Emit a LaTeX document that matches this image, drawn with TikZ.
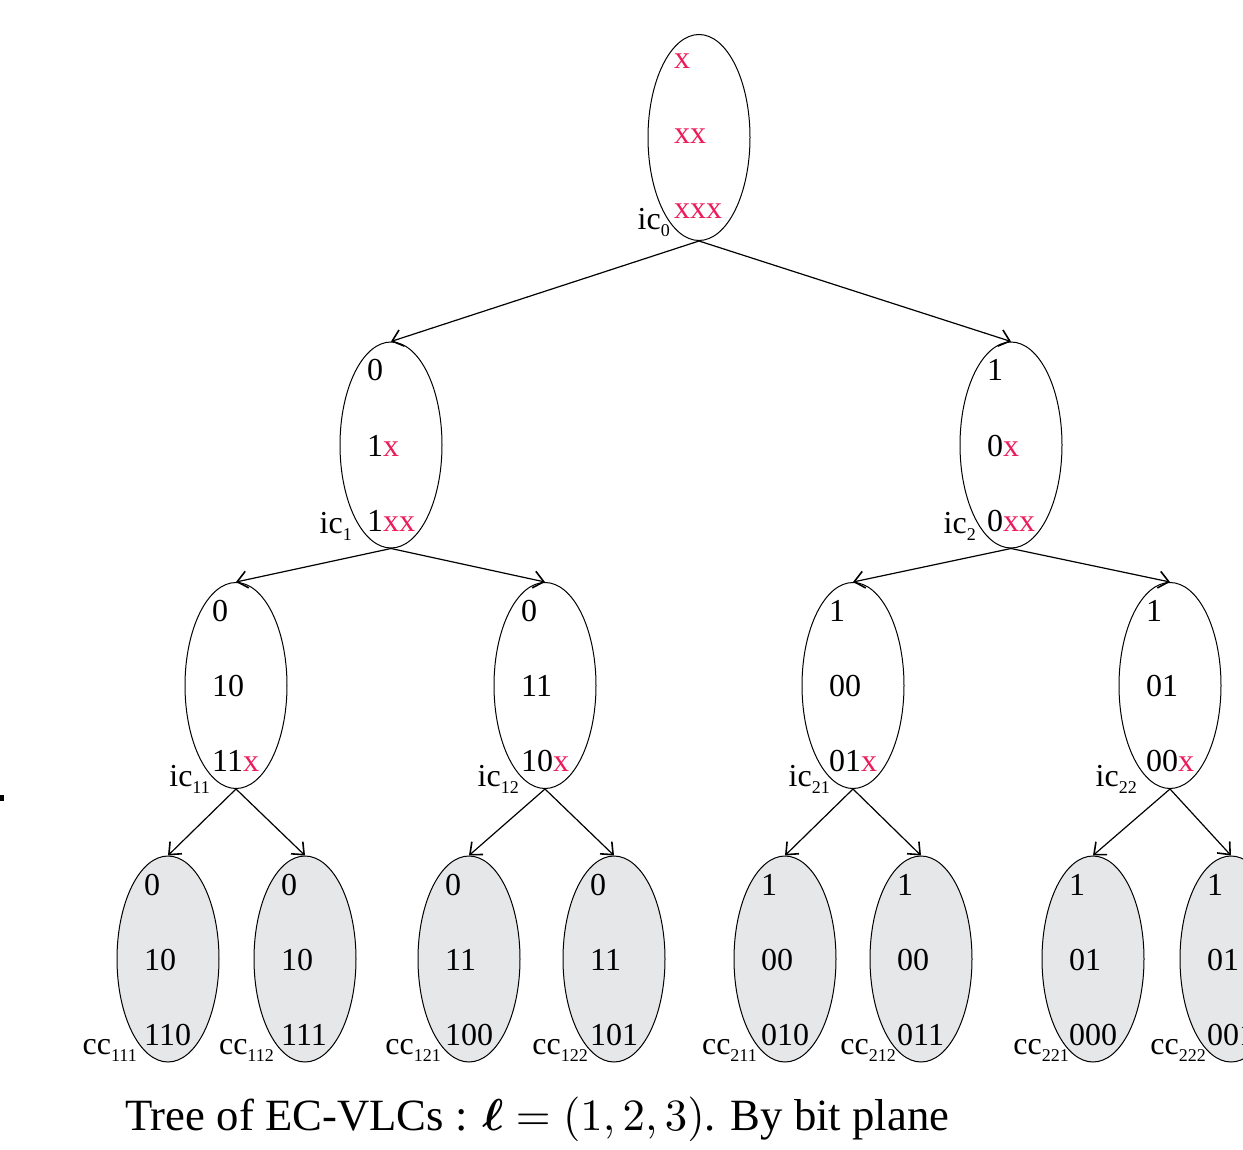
\documentclass[tikz,border=0pt]{standalone}
\usepackage{fontspec}
\setmainfont{Liberation Serif}
\usepackage{amsmath,bm,graphicx}
\usetikzlibrary{shapes.geometric,arrows.meta}
\definecolor{xred}{RGB}{236,28,90}
\definecolor{leafgray}{RGB}{230,231,232}
\tikzset{
  codeset/.style={ellipse, draw, line width=1pt, minimum width=102pt, minimum height=206pt, inner sep=0pt},
  leaf/.style={codeset, fill=leafgray},
  word/.style={anchor=base west, inner sep=0pt, font=\fontsize{32}{32}\selectfont},
  tag/.style={anchor=base east, inner sep=0pt, font=\fontsize{32}{32}\selectfont},
  branch/.style={-{Straight Barb[length=10pt,width=17pt,line width=1.6pt]}, line width=1.2pt},
}
\newcommand\rx[1]{\textcolor{xred}{#1}}
\newcommand\tagtext[2]{#1\raisebox{-7pt}{\fontsize{18}{18}\selectfont #2}}
% three code words inside ellipse #1, written from its centre
\newcommand\words[4]{%
  \path (#1) ++(-24,-64) node[word] (#1-a) {#2};
  \path (#1) ++(-24,11)  node[word] (#1-b) {#3};
  \path (#1) ++(-24,86)  node[word] (#1-c) {#4};}
\begin{document}
\begin{tikzpicture}[x=1pt,y=-1pt]
\useasboundingbox (0,0) rectangle (1243,1150);
\fill (0,795) rectangle (4,801);

% root
\node[codeset] (n0) at (699,137.5) {};
\path (n0) ++(-25,-69) node[word] (n0-a) {\rx{x}};
\path (n0) ++(-25,6)   node[word] (n0-b) {\rx{xx}};
\path (n0) ++(-25,81)  node[word] (n0-c) {\rx{xxx}};
\node[tag] (t0) at (670,230) {\tagtext{ic}{0}};

% first level
\node[codeset] (n1) at (391,445) {};
\words{n1}{0}{1\rx{x}}{1\rx{xx}}
\node[tag] (t1) at (352,533) {\tagtext{ic}{1}};
\node[codeset] (n2) at (1011,445) {};
\words{n2}{1}{0\rx{x}}{0\rx{xx}}
\node[tag] (t2) at (976,533) {\tagtext{ic}{2}};

% second level
\node[codeset] (n11) at (236,685.5) {};
\words{n11}{0}{10}{11\rx{x}}
\node[tag] (t11) at (210,786) {\tagtext{ic}{11}};
\node[codeset] (n12) at (545,685.5) {};
\words{n12}{0}{11}{10\rx{x}}
\node[tag] (t12) at (519,786) {\tagtext{ic}{12}};
\node[codeset] (n21) at (853,685.5) {};
\words{n21}{1}{00}{01\rx{x}}
\node[tag] (t21) at (830,786) {\tagtext{ic}{21}};
\node[codeset] (n22) at (1170,685.5) {};
\words{n22}{1}{01}{00\rx{x}}
\node[tag] (t22) at (1137,786) {\tagtext{ic}{22}};

% complete code words
\node[leaf] (n111) at (168,959) {};
\words{n111}{0}{10}{110}
\node[tag] (t111) at (137,1054) {\tagtext{cc}{111}};
\node[leaf] (n112) at (305,959) {};
\words{n112}{0}{10}{111}
\node[tag] (t112) at (274,1054) {\tagtext{cc}{112}};
\node[leaf] (n121) at (469,959) {};
\words{n121}{0}{11}{100}
\node[tag] (t121) at (441,1054) {\tagtext{cc}{121}};
\node[leaf] (n122) at (614,959) {};
\words{n122}{0}{11}{101}
\node[tag] (t122) at (588,1054) {\tagtext{cc}{122}};
\node[leaf] (n211) at (785,959) {};
\words{n211}{1}{00}{010}
\node[tag] (t211) at (757,1054) {\tagtext{cc}{211}};
\node[leaf] (n212) at (921,959) {};
\words{n212}{1}{00}{011}
\node[tag] (t212) at (896,1054) {\tagtext{cc}{212}};
\node[leaf] (n221) at (1093,959) {};
\words{n221}{1}{01}{000}
\node[tag] (t221) at (1069,1054) {\tagtext{cc}{221}};
\node[leaf] (n222) at (1231,959) {};
\words{n222}{1}{01}{001}
\node[tag] (t222) at (1206,1054) {\tagtext{cc}{222}};

% branches
\draw[branch] (n0.south) -- (n1.north);
\draw[branch] (n0.south) -- (n2.north);
\draw[branch] (n1.south) -- (n11.north);
\draw[branch] (n1.south) -- (n12.north);
\draw[branch] (n2.south) -- (n21.north);
\draw[branch] (n2.south) -- (n22.north);
\draw[branch] (n11.south) -- (n111.north);
\draw[branch] (n11.south) -- (n112.north);
\draw[branch] (n12.south) -- (n121.north);
\draw[branch] (n12.south) -- (n122.north);
\draw[branch] (n21.south) -- (n211.north);
\draw[branch] (n21.south) -- (n212.north);
\draw[branch] (n22.south) -- (n221.north);
\draw[branch] (n22.south) -- (n222.north);

\node[anchor=base west, inner sep=0pt, font=\fontsize{44.7}{52}\selectfont] (cap) at (125,1130)
  {Tree of EC-VLCs : \scalebox{4.47}{\fontsize{10}{12}\selectfont$\bm{\ell}=(1,2,3)$}. By bit plane};
\end{tikzpicture}
\end{document}
